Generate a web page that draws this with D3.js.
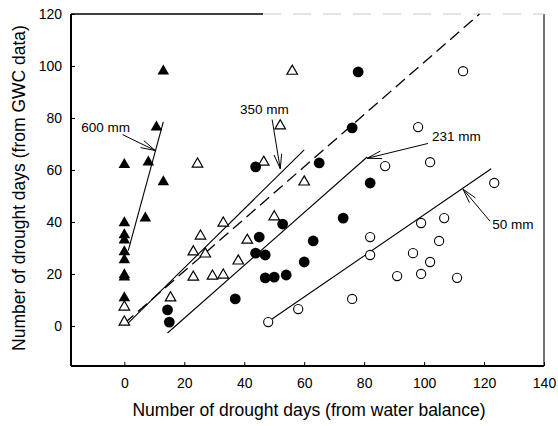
<!DOCTYPE html>
<html>
<head>
<meta charset="utf-8">
<script src="https://cdn.jsdelivr.net/npm/d3@7"></script>
<style>
  html, body { margin: 0; padding: 0; background: #fff; }
  svg { display: block; font-family: "Liberation Sans", Arial, Helvetica, sans-serif; }
</style>
</head>
<body>
<svg id="chart" width="558" height="426"></svg>
<script>
// Drought days: water-balance estimate (x) vs. GWC observations (y), by soil water capacity
const series600 = [[13,98],[10.7,76.5],[0,62],[8,63],[13,55.4],[7,41.5],[0,39.6],[0,35],[0,33],[0,28.5],[0,25.4],[0,19.6],[0,18.8],[0,10.8]];
const series350 = [[56,98],[52,77],[46.5,63],[24.4,62.3],[60,55.4],[50,42],[33,39.6],[25.4,34.6],[41,33],[23,28.5],[27,27.7],[38,25],[29.4,19.2],[33,19.6],[23,18.8],[15.4,10.8],[0,7.3],[0,1.5]];
const series231 = [[78,97.7],[76,76.2],[65,62.7],[43.8,61.2],[82,55],[73,41.5],[52.8,39.2],[45,34.2],[63,32.7],[43.8,28],[47,27.3],[60,24.6],[54,19.6],[50,18.8],[47,18.5],[37,10.4],[14.4,6.2],[15,1.5]];
const series50 = [[113,98],[98,76.5],[102,63],[87,61.5],[123.4,55],[106.7,41.5],[99,39.6],[82,34.2],[105,32.7],[96.3,28],[82,27.3],[102,24.6],[99,20],[91,19.2],[111,18.5],[76,10.4],[58,6.5],[48,1.5]];

// Fitted lines (endpoints in data units) and the 1:1 reference line
const fit600 = [[1.3,29],[13,78.5]];
const fit350 = [[1,0.8],[60,67.7]];
const fit231 = [[14.4,-2.7],[81,65]];
const fit50 = [[47.8,1.5],[122.4,60.5]];
const oneToOne = [[0,1],[118.5,120]];

const xTicks = [0,20,40,60,80,100,120,140];
const yTicks = [0,20,40,60,80,100,120];

const svg = d3.select("#chart");
const x = d3.scaleLinear().domain([-17.8, 140]).range([71, 544]);
const y = d3.scaleLinear().domain([-15.4, 120]).range([366, 14]);

// Frame
const frame = svg.append("g");
frame.append("line").attr("x1", 544).attr("x2", 544).attr("y1", 14).attr("y2", 366)
  .attr("stroke", "#444").attr("stroke-width", 1.5);
frame.append("line").attr("x1", 71).attr("x2", 263).attr("y1", 14).attr("y2", 14)
  .attr("stroke", "#000").attr("stroke-width", 1.5);
frame.append("line").attr("x1", 263).attr("x2", 544).attr("y1", 14).attr("y2", 14)
  .attr("stroke", "#c8c8c8").attr("stroke-width", 1).attr("stroke-dasharray", "18,12");

// Axes with inward ticks
const xAxis = d3.axisBottom(x).tickValues(xTicks).tickSizeInner(-4).tickSizeOuter(0).tickPadding(12);
const yAxis = d3.axisLeft(y).tickValues(yTicks).tickSizeInner(-4).tickSizeOuter(0).tickPadding(12);

const gx = svg.append("g").attr("transform", "translate(0,366)").call(xAxis);
const gy = svg.append("g").attr("transform", "translate(71,0)").call(yAxis);
[gx, gy].forEach(g => {
  g.select(".domain").attr("stroke", "#000").attr("stroke-width", 2);
  g.selectAll(".tick line").attr("stroke", "#000").attr("stroke-width", 1);
  g.selectAll(".tick text").attr("font-size", 14).attr("fill", "#000")
    .attr("font-family", "'Liberation Sans', Arial, sans-serif");
});
gx.select(".domain").attr("d", "M71,0H544");
gy.select(".domain").attr("d", "M0,14V366");
gy.selectAll(".tick text").attr("dx", 3);

// Axis titles
svg.append("text").attr("x", 309).attr("y", 416).attr("text-anchor", "middle")
  .attr("font-size", 17.5).text("Number of drought days (from water balance)");
svg.append("text").attr("transform", "translate(25,188) rotate(-90)").attr("text-anchor", "middle")
  .attr("font-size", 17.5).text("Number of drought days (from GWC data)");

// Lines
const line = d3.line().x(d => x(d[0])).y(d => y(d[1]));
const lines = svg.append("g").attr("fill", "none").attr("stroke", "#000");
[fit600, fit350, fit231, fit50].forEach(seg => {
  lines.append("path").attr("d", line(seg)).attr("stroke-width", 1.1);
});
lines.append("path").attr("d", line(oneToOne)).attr("stroke-width", 1.3)
  .attr("stroke-dasharray", "12,6");

// Markers
const pts = svg.append("g");
pts.selectAll(".t600").data(series600).join("path")
  .attr("transform", d => `translate(${x(d[0])},${y(d[1])})`)
  .attr("d", d3.symbol().type(d3.symbolTriangle).size(58)).attr("fill", "#000");
pts.selectAll(".t350").data(series350).join("path")
  .attr("transform", d => `translate(${x(d[0])},${y(d[1])})`)
  .attr("d", d3.symbol().type(d3.symbolTriangle).size(48))
  .attr("fill", "#fff").attr("stroke", "#000").attr("stroke-width", 1.2);
pts.selectAll(".c231").data(series231).join("circle")
  .attr("cx", d => x(d[0])).attr("cy", d => y(d[1])).attr("r", 5.4).attr("fill", "#000");
pts.selectAll(".c50").data(series50).join("circle")
  .attr("cx", d => x(d[0])).attr("cy", d => y(d[1])).attr("r", 4.6)
  .attr("fill", "#fff").attr("stroke", "#000").attr("stroke-width", 1.1);

// Labels with arrows pointing at each fitted line
const notes = [
  { text: "600 mm", at: [-14.4, 74.6], from: [-0.6, 73.6], to: [10.3, 67.5] },
  { text: "350 mm", at: [38.6, 81.5], from: [49.3, 79.4], to: [52, 60.5] },
  { text: "231 mm", at: [102.6, 71.3], from: [101.3, 70.2], to: [81, 64.5] },
  { text: "50 mm", at: [122.7, 37.2], from: [122, 40.3], to: [113, 52.6] }
];
const ann = svg.append("g");
notes.forEach(n => {
  ann.append("text").attr("x", x(n.at[0])).attr("y", y(n.at[1]))
    .attr("font-size", 13.5).text(n.text);
  const x1 = x(n.from[0]), y1 = y(n.from[1]), x2 = x(n.to[0]), y2 = y(n.to[1]);
  ann.append("line").attr("x1", x1).attr("y1", y1).attr("x2", x2).attr("y2", y2)
    .attr("stroke", "#000").attr("stroke-width", 1);
  const ang = Math.atan2(y1 - y2, x1 - x2);
  [-0.26, 0.26].forEach(da => {
    ann.append("line").attr("x1", x2).attr("y1", y2)
      .attr("x2", x2 + 15 * Math.cos(ang + da)).attr("y2", y2 + 15 * Math.sin(ang + da))
      .attr("stroke", "#000").attr("stroke-width", 1);
  });
});
</script>
</body>
</html>
